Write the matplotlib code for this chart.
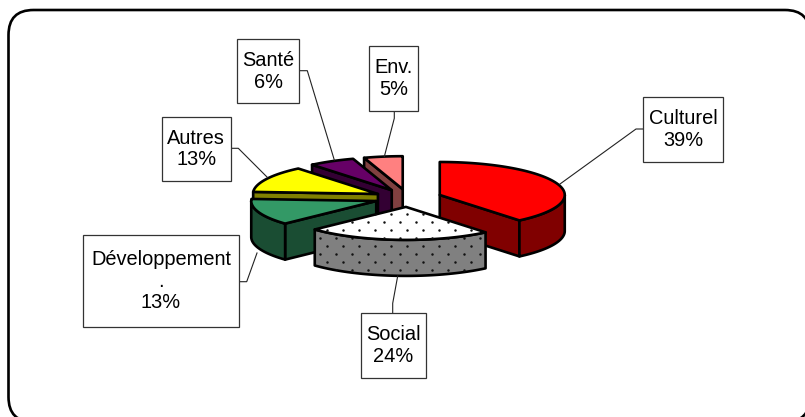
import numpy as np
import matplotlib
matplotlib.use("Agg")
import matplotlib.pyplot as plt
from matplotlib.patches import FancyBboxPatch, Polygon, Rectangle

# Pie data
names = ["Culturel", "Social", "Développement\n.", "Autres", "Santé", "Env."]
shares = [39, 24, 13, 13, 6, 5]

# colours, one per slice
top_colors = ["#FF0000", "#FFFFFF", "#339966", "#FFFF00", "#660066", "#FF8080"]
side_colors = ["#800000", "#808080", "#1A4D33", "#808000", "#330033", "#804040"]
dotted = [False, True, False, False, False, False]

# pie geometry, in pixels
cx, cy = 408, 198
rx, ry = 125, 33
depth = 36
explode = 0.27

# label boxes: left, top, right, bottom
boxes = [(642.7, 96.7, 723.3, 161.7), (360.7, 313.3, 425.7, 378.3),
         (82.7, 235, 239.3, 327.3), (161.7, 116.7, 230.7, 181),
         (236.7, 39, 299.3, 103.3), (369, 46, 418.3, 111)]
leaders = [[(642.7, 129), (636, 129), (560, 184)],
           [(392.7, 313.3), (392.7, 303.3), (397.7, 276)],
           [(239.3, 281.7), (246.7, 281.7), (257, 253)],
           [(230.7, 148.3), (238.3, 148.3), (267.3, 177.3)],
           [(299.3, 70.7), (307.3, 70.7), (334.3, 160)],
           [(394.3, 111), (394.3, 118.3), (384.3, 156.7)]]

plt.rcParams['font.family'] = ['Liberation Sans', 'DejaVu Sans']

fig = plt.figure(figsize=(8.05, 4.17), dpi=100)
ax = fig.add_axes([0, 0, 1, 1])
ax.set_xlim(0, 805)
ax.set_ylim(417, 0)
ax.axis('off')

# Outer rounded frame, runs off the right and bottom edges
ax.add_patch(FancyBboxPatch((33.5, 35), 751.5, 362,
                            boxstyle="round,pad=25,rounding_size=25",
                            fc='white', ec='black', lw=1.9, zorder=1))


def rim(x0, y0, angles, drop=0):
    a = np.radians(angles)
    return np.column_stack([x0 + rx*np.sin(a), y0 - ry*np.cos(a) + drop])


def add_dots(patch, z):
    # staggered dot texture clipped to a face
    xs, ys = [], []
    for i, y in enumerate(np.arange(141.7, 330, 8)):
        off = 7.6 if i % 2 else 0
        for x in np.arange(207.7 + off, 620, 16):
            xs.append(x)
            ys.append(y)
    pts = ax.scatter(xs, ys, s=3.2, c='#111111', lw=0, zorder=z)
    pts.set_clip_path(patch)


# Slice angles, clockwise from 12 o'clock
edges = np.cumsum([0] + shares) * 3.6
z = 2
# painter's order: back slices first, Social last
for i in [5, 4, 3, 2, 0, 1]:
    a0, a1 = edges[i], edges[i + 1]
    mid = np.radians((a0 + a1) / 2)
    x0 = cx + explode*rx*np.sin(mid)
    y0 = cy - explode*ry*np.cos(mid)
    style = dict(ec='black', lw=1.9, joinstyle='round')

    # cut faces that look towards the viewer
    for a, ok in [(a0, 180 < a0 < 360), (a1, 0 < a1 < 180)]:
        if ok:
            p = rim(x0, y0, [a])[0]
            face = [(x0, y0), p, (p[0], p[1] + depth), (x0, y0 + depth)]
            ax.add_patch(Polygon(face, fc=side_colors[i], zorder=z, **style))
    z += 1

    # outer wall, lower half of the ellipse only
    lo, hi = max(a0, 90), min(a1, 270)
    if hi > lo:
        t = np.linspace(lo, hi, 60)
        wall = np.vstack([rim(x0, y0, t), rim(x0, y0, t[::-1], depth)])
        w = Polygon(wall, fc=side_colors[i], zorder=z, **style)
        ax.add_patch(w)
        if dotted[i]:
            add_dots(w, z + 0.5)
    z += 1

    # top face
    t = np.linspace(a0, a1, 80)
    top = np.vstack([[(x0, y0)], rim(x0, y0, t)])
    tp = Polygon(top, fc=top_colors[i], zorder=z, **style)
    ax.add_patch(tp)
    if dotted[i]:
        add_dots(tp, z + 0.5)
    z += 1

# Labels with leader lines
for name, share, b, line in zip(names, shares, boxes, leaders):
    xs, ys = zip(*line)
    ax.plot(xs, ys, color='#222222', lw=0.8, zorder=50)
    ax.add_patch(Rectangle((b[0], b[1]), b[2] - b[0], b[3] - b[1], fc='white',
                           ec='#333333', lw=0.9, zorder=51))
    ax.text((b[0] + b[2]) / 2, (b[1] + b[3]) / 2, "%s\n%d%%" % (name, share),
            ha='center', va='center', ma='center', fontsize=14.4,
            linespacing=1.18, color='black', zorder=52)

fig.savefig("out.png", dpi=100)
